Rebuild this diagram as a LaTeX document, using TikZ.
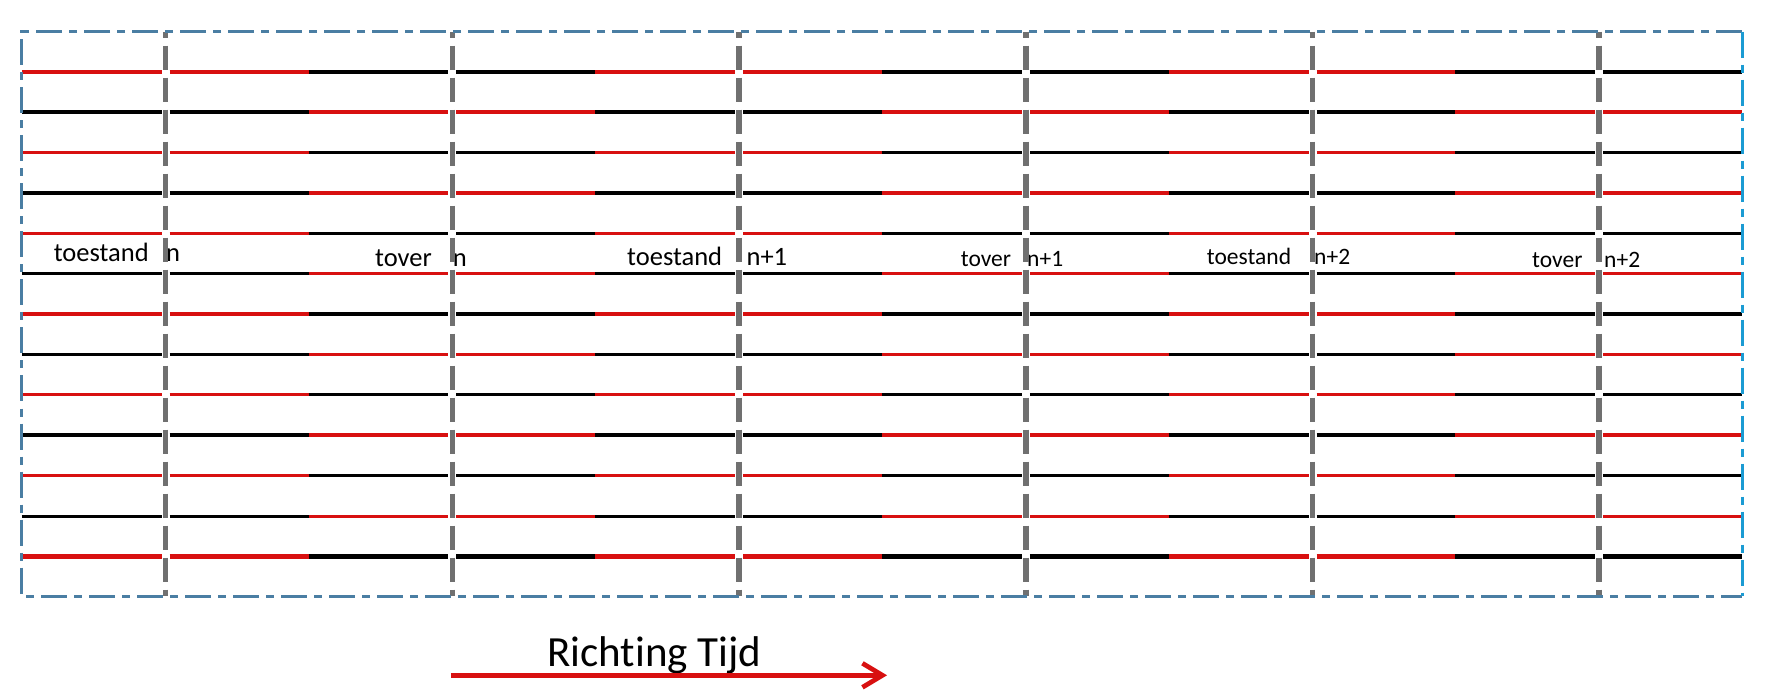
\documentclass[tikz,border=0pt]{standalone}
\usepackage{fontspec}
\setmainfont[Ligatures=NoCommon]{Carlito}
\usetikzlibrary{arrows.meta}
\definecolor{linered}{RGB}{216,16,16}
\definecolor{dashgray}{RGB}{112,112,112}
\definecolor{framesteel}{RGB}{74,126,163}
\definecolor{framecyan}{RGB}{27,155,211}
\tikzset{
  bigword/.style={anchor=base west, inner sep=0pt, font=\fontsize{26.5}{30}\selectfont},
  smallword/.style={anchor=base west, inner sep=0pt, font=\fontsize{23.5}{28}\selectfont},
  timeline/.style={dashgray, line width=5.5pt, dash pattern=on 24pt off 8pt, dash phase=18pt},
  framepart/.style={line width=3pt, dash pattern=on 26pt off 7pt on 8pt off 7pt},
}
\begin{document}
\begin{tikzpicture}[x=1pt,y=-1pt]
\useasboundingbox (0,0) rectangle (1791,700);
% horizontal lines
\foreach \i in {0,...,12} {
  \pgfmathsetmacro\yy{71.7+40.4*\i}
  \pgfmathtruncatemacro\thk{mod(\i,3)==0 ? 1 : 0}
  \ifnum\thk=1 \def\lw{4.2pt}\else\def\lw{3.2pt}\fi
  \foreach \j in {0,...,5} {
    \pgfmathtruncatemacro\isred{mod(\i+\j,2)==0 ? 1 : 0}
    \ifnum\isred=1 \def\col{linered}\else\def\col{black}\fi
    \pgfmathsetmacro\xa{21.8+286.7*\j}
    \pgfmathsetmacro\xb{\xa+286.7}
    \pgfmathsetmacro\xc{\xa+143.9}
    \draw[\col, line width=\lw] (\xa,\yy) -- (\xc-4,\yy);
    \draw[\col, line width=\lw] (\xc+4,\yy) -- (\xb,\yy);
  }
}
% labels
\node[bigword] (t1) at (53.6,262) {toestand};
\node[bigword] (n1) at (166,262) {n};
\node[bigword] (v1) at (375,267) {tover};
\node[bigword] (m1) at (452.7,267) {n};
\node[bigword] (t2) at (627,266) {toestand};
\node[bigword] (n2) at (746.4,266) {n+1};
\node[smallword] (v2) at (960.7,267) {tover};
\node[smallword] (m2) at (1027,267) {n+1};
\node[smallword] (t3) at (1206.7,265) {toestand};
\node[smallword] (n3) at (1314,265) {n+2};
\node[smallword] (v3) at (1532,268) {tover};
\node[smallword] (m3) at (1604,268) {n+2};
% vertical dashed time lines
\foreach \k in {0,...,5} {
  \pgfmathsetmacro\xx{165.7+286.7*\k}
  \draw[timeline] (\xx,31.7) -- (\xx,596);
}
% frame
\draw[framepart, framesteel] (1742,31.7) -- (21.8,31.7) -- (21.8,596) -- (1742,596);
\draw[framepart, framecyan] (1742,31.7) -- (1742,596);
% direction of time
\node[anchor=base west, inner sep=0pt, font=\fontsize{43}{50}\selectfont] (title) at (547,666.7) {Richting Tijd};
\coordinate (arrS) at (450.9,675.3);
\coordinate (arrE) at (887,675.3);
\draw[linered, line width=4.7pt, -{Straight Barb[length=20pt,width=24pt]}] (arrS) -- (arrE);
\end{tikzpicture}
\end{document}
